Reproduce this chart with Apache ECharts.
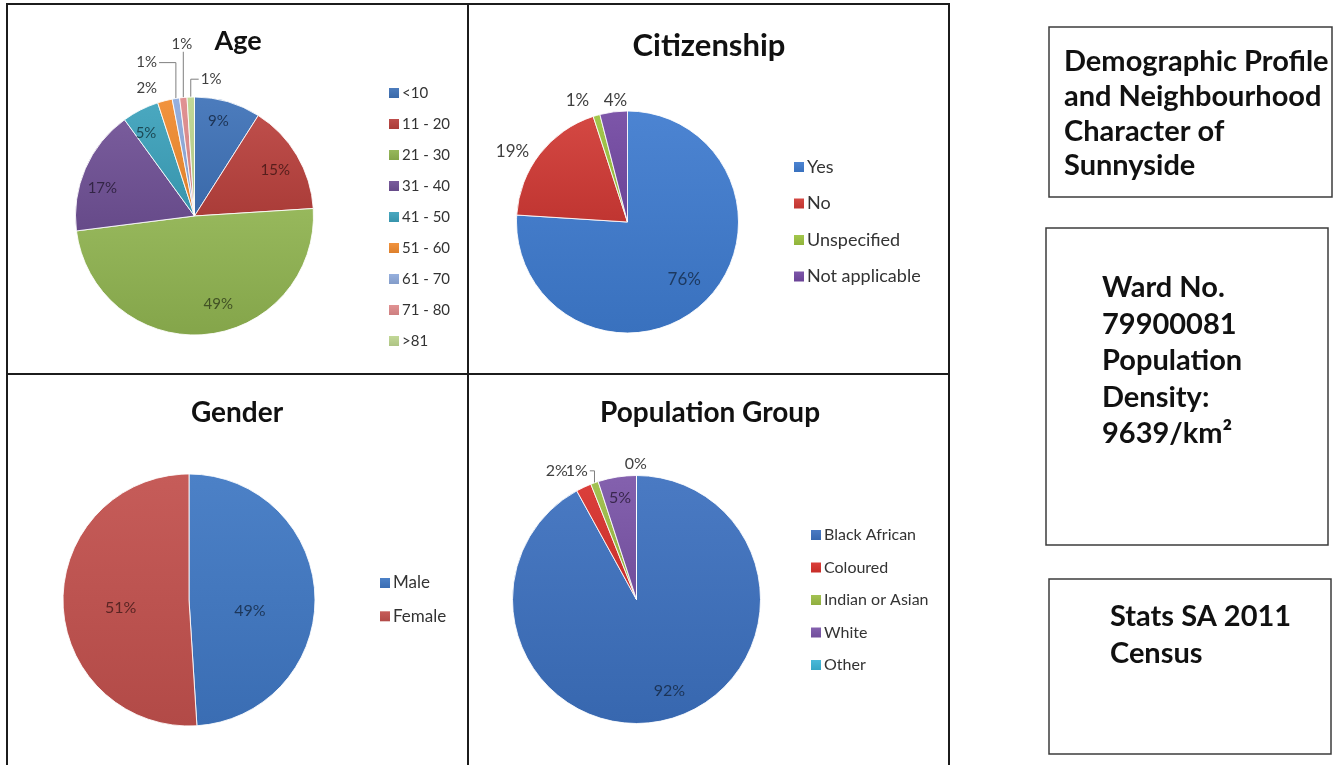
<!DOCTYPE html>
<html>
<head>
<meta charset="utf-8">
<title>Demographic Profile of Sunnyside</title>
<script src="https://cdn.jsdelivr.net/npm/echarts@6/dist/echarts.min.js"></script>
<style>
  html, body { margin: 0; padding: 0; background: #ffffff; }
  #main { width: 1334px; height: 765px; }
</style>
</head>
<body>
<div id="main"></div>
<script>
// Ward 79900081 (Sunnyside), Stats SA Census 2011 — shares in percent
const ageGroups = ['<10', '11 - 20', '21 - 30', '31 - 40', '41 - 50', '51 - 60', '61 - 70', '71 - 80', '>81'];
const ageShares = [9, 15, 49, 17, 5, 2, 1, 1, 1];

const citizenshipGroups = ['Yes', 'No', 'Unspecified', 'Not applicable'];
const citizenshipShares = [76, 19, 1, 4];

const genderGroups = ['Male', 'Female'];
const genderShares = [49, 51];

const populationGroups = ['Black African', 'Coloured', 'Indian or Asian', 'White', 'Other'];
const populationShares = [92, 2, 1, 5, 0];

const headingLines = ['Demographic Profile', 'and Neighbourhood', 'Character of', 'Sunnyside'];
const wardLines = ['Ward No.', '79900081', 'Population', 'Density:', '9639/km\u00B2'];
const sourceLines = ['Stats SA 2011', 'Census'];

const FONT = 'Lato, "Open Sans", "DejaVu Sans", sans-serif';

// Layout and styling of the four pie panels.
// labels: [radius factor, angular shift in degrees, kind] per slice;
// kind: 'in' = inside the slice, 'out' = outside, 'lead' = outside with leader line
const panels = [
  {
    title: 'Age', names: ageGroups, values: ageShares,
    colors: ['#3f72b8', '#b9413d', '#8fb350', '#6f5095', '#3ca1bb', '#f08b30', '#8eaadb', '#df8a8b', '#bdd58f'],
    center: [194.5, 216], r: 119,
    titleAt: [238, 41], titleSize: 27, labelSize: 15,
    legend: { left: 389, firstY: 93, step: 31, size: 15 },
    labels: [[0.82, -2, 'in'], [0.78, 1, 'in'], [0.77, -9.6, 'in'], [0.81, -6.3, 'in'], [0.81, -3.2, 'in'],
             [1.146, -6.1, 'out'], [1.35, -8.3, 'lead'], [1.447, 1.2, 'lead'], [1.158, 8.7, 'lead']]
  },
  {
    title: 'Citizenship', names: citizenshipGroups, values: citizenshipShares,
    colors: ['#3e7bcf', '#d13a35', '#9cc33f', '#7349a3'],
    center: [627.5, 222], r: 111,
    titleAt: [709, 46], titleSize: 31, labelSize: 17,
    legend: { left: 794, firstY: 167, step: 36.5, size: 18 },
    labels: [[0.727, -1.5, 'in'], [1.215, -6.3, 'out'], [1.18, -6.3, 'out'], [1.10, 1.5, 'out']]
  },
  {
    title: 'Gender', names: genderGroups, values: genderShares,
    colors: ['#3f77c3', '#c2504d'],
    center: [189, 600], r: 126,
    titleAt: [237, 413], titleSize: 28, labelSize: 16,
    legend: { left: 380, firstY: 583, step: 33.3, size: 17 },
    labels: [[0.49, 11.7, 'in'], [0.546, -4.9, 'in']]
  },
  {
    title: 'Population Group', names: populationGroups, values: populationShares,
    colors: ['#3c70be', '#d8312c', '#9cbd45', '#7b55a8', '#3bb4d6'],
    center: [636.5, 599.5], r: 124,
    titleAt: [710, 413], titleSize: 28, labelSize: 16,
    legend: { left: 811, firstY: 535, step: 32.5, size: 16 },
    labels: [[0.786, -5.3, 'in'], [1.22, -6.6, 'out'], [1.144, -5.1, 'lead'], [0.833, -0.2, 'in'], [1.098, -0.3, 'out']]
  }
];

function scaleColor(hex, k) {
  const n = parseInt(hex.slice(1), 16);
  const c = [(n >> 16) & 255, (n >> 8) & 255, n & 255].map(function (v) {
    return Math.max(0, Math.min(255, Math.round(k >= 1 ? v + (255 - v) * (k - 1) : v * k)));
  });
  return 'rgb(' + c.join(',') + ')';
}

// Soft top-to-bottom shading of a slice colour
function shaded(hex) {
  return new echarts.graphic.LinearGradient(0, 0, 0, 1, [
    { offset: 0, color: scaleColor(hex, 1.07) },
    { offset: 1, color: scaleColor(hex, 0.92) }
  ]);
}

// Places each data label along its slice's mid-angle, computed from the slice values
function labelPlacer(p) {
  const total = p.values.reduce(function (a, b) { return a + b; }, 0);
  return function (params) {
    const i = params.dataIndex;
    const spec = p.labels[i];
    let before = 0;
    for (let k = 0; k < i; k++) before += p.values[k];
    const midFrac = (before + p.values[i] / 2) / total;
    const a = (midFrac * 360 + spec[1]) * Math.PI / 180;
    const lx = p.center[0] + spec[0] * p.r * Math.sin(a);
    const ly = p.center[1] - spec[0] * p.r * Math.cos(a);
    const out = { x: lx, y: ly, align: 'center', verticalAlign: 'middle' };
    if (spec[2] === 'lead') {
      const m = midFrac * 2 * Math.PI;
      const ex = p.center[0] + p.r * Math.sin(m);
      const ey = p.center[1] - p.r * Math.cos(m);
      const hw = params.labelRect.width / 2 + 2;
      const hh = params.labelRect.height / 2;
      if (Math.abs(ex - lx) <= hw - 2) {
        out.labelLinePoints = [[ex, ly + hh], [ex, ey]];
      } else {
        const sx = ex > lx ? lx + hw : lx - hw;
        out.labelLinePoints = [[sx, ly], [ex, ly], [ex, ey]];
      }
    }
    return out;
  };
}

const chart = echarts.init(document.getElementById('main'), null, { renderer: 'canvas' });

const titles = [];
const legends = [];
const series = [];

panels.forEach(function (p) {
  titles.push({
    text: p.title,
    left: p.titleAt[0], top: p.titleAt[1],
    textAlign: 'center', textVerticalAlign: 'middle',
    padding: 0,
    textStyle: { fontFamily: FONT, fontWeight: 'bold', fontSize: p.titleSize, color: '#111111' }
  });

  const lh = p.legend.size + 3;
  legends.push({
    data: p.names,
    orient: 'vertical',
    left: p.legend.left,
    top: p.legend.firstY - lh / 2,
    padding: 0,
    itemGap: p.legend.step - lh,
    itemWidth: 10, itemHeight: 10,
    icon: 'rect',
    selectedMode: false,
    itemStyle: { borderWidth: 0 },
    textStyle: { fontFamily: FONT, fontSize: p.legend.size, color: '#333333', lineHeight: lh, padding: [0, 0, 0, -2] }
  });

  series.push({
    type: 'pie',
    name: p.title,
    center: p.center,
    radius: p.r,
    startAngle: 90,
    clockwise: true,
    avoidLabelOverlap: false,
    animation: false,
    silent: true,
    color: p.colors.map(shaded),
    itemStyle: { borderColor: 'rgba(255,255,255,0.85)', borderWidth: 1 },
    label: {
      show: true,
      fontFamily: FONT,
      fontSize: p.labelSize,
      formatter: function (d) { return d.value + '%'; }
    },
    labelLine: { show: false, lineStyle: { color: '#7f7f7f', width: 1 } },
    labelLayout: labelPlacer(p),
    data: p.names.map(function (n, i) {
      const kind = p.labels[i][2];
      return {
        name: n,
        value: p.values[i],
        label: {
          position: kind === 'in' ? 'inside' : 'outside',
          color: kind === 'in' ? scaleColor(p.colors[i], 0.46) : '#404040'
        },
        labelLine: { show: kind === 'lead', length: 5, length2: 5 }
      };
    })
  });
});

// Panel frame lines and the information boxes on the right
const frameStroke = { stroke: '#1c1c1c', lineWidth: 2 };
const boxStroke = { fill: 'none', stroke: '#3c3c3c', lineWidth: 1.5 };
const infoText = { fontFamily: FONT, fontWeight: 'bold', fontSize: 29, fill: '#111111', align: 'left', verticalAlign: 'top' };
const graphics = [
  { type: 'line', shape: { x1: 7, y1: 3, x2: 7, y2: 765 }, style: frameStroke },
  { type: 'line', shape: { x1: 468, y1: 3, x2: 468, y2: 765 }, style: frameStroke },
  { type: 'line', shape: { x1: 949, y1: 3, x2: 949, y2: 765 }, style: frameStroke },
  { type: 'line', shape: { x1: 6, y1: 4, x2: 950, y2: 4 }, style: frameStroke },
  { type: 'line', shape: { x1: 6, y1: 374, x2: 950, y2: 374 }, style: frameStroke },
  { type: 'rect', shape: { x: 1049, y: 27, width: 283, height: 170 }, style: boxStroke },
  { type: 'rect', shape: { x: 1046, y: 228, width: 282, height: 317 }, style: boxStroke },
  { type: 'rect', shape: { x: 1049, y: 579, width: 282, height: 175 }, style: boxStroke },
  { type: 'text', x: 1064, y: 44.6, style: Object.assign({ text: headingLines.join('\n'), lineHeight: 34.7 }, infoText) },
  { type: 'text', x: 1102, y: 269.8, style: Object.assign({ text: wardLines.join('\n'), lineHeight: 36.5 }, infoText) },
  { type: 'text', x: 1110, y: 598.5, style: Object.assign({ text: sourceLines.join('\n'), lineHeight: 37 }, infoText) }
];

chart.setOption({
  backgroundColor: '#ffffff',
  animation: false,
  title: titles,
  legend: legends,
  graphic: graphics,
  series: series
});
</script>
</body>
</html>
